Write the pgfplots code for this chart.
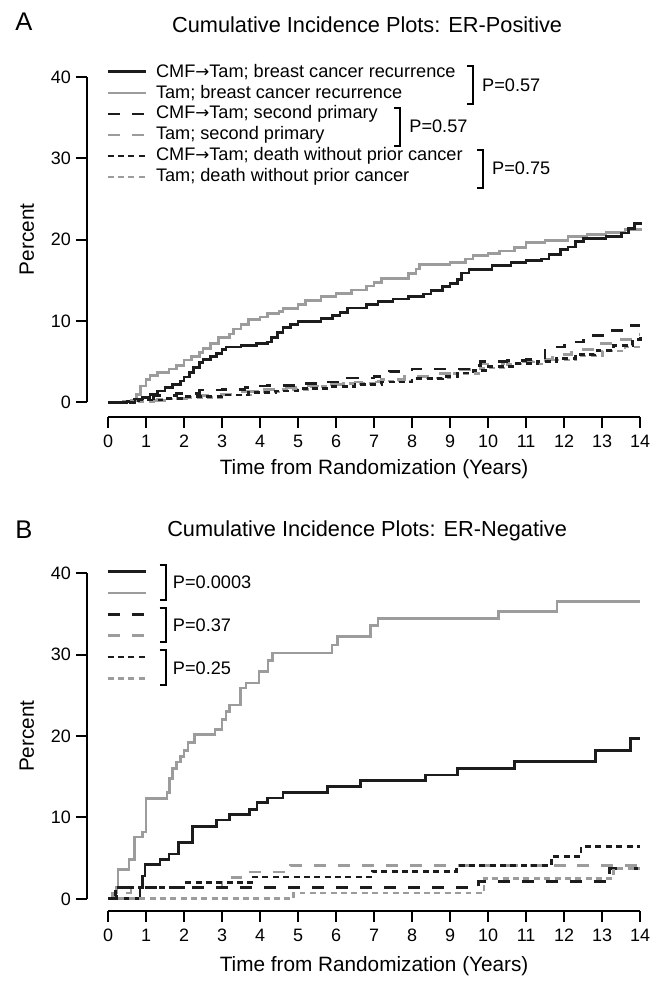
\documentclass[border=0pt]{standalone}
\usepackage{fontspec}
\setmainfont{Liberation Sans}
\newfontfamily\dejavu[Scale=0.92]{DejaVu Sans}
\usepackage{pgfplots}
\pgfplotsset{compat=1.18}

\definecolor{dk}{HTML}{1C1C1C}
\definecolor{lg}{HTML}{9C9C9C}

\newcommand{\arr}{{\dejavu →}}

\tikzset{
  bs/.style={line width=1.35pt, color=dk},
  gs/.style={line width=1.35pt, color=lg},
  bd/.style={bs, dash pattern=on 6pt off 6pt},
  gd/.style={gs, dash pattern=on 6pt off 6pt},
  bt/.style={bs, dash pattern=on 3pt off 2.2pt},
  gt/.style={gs, dash pattern=on 3pt off 2.2pt},
  brk/.style={line width=1pt, black},
}

\pgfplotsset{
  ci/.style={
    scale only axis,
    width=277.35pt,
    xmin=-0.56, xmax=14, ymax=40,
    axis lines*=left,
    axis line style={draw=none},
    xtick={0,...,14}, ytick={0,10,20,30,40},
    tick align=outside,
    major tick length=5.5pt,
    tick style={black, line width=1pt},
    ticklabel style={font=\fontsize{9}{10}\selectfont},
    yticklabel style={xshift=1pt},
    /pgf/number format/assume math mode=true,
    clip=false,
  },
}

\begin{document}
\begin{tikzpicture}
\begin{scope}[x=0.5pt,y=-0.5pt]
\path[use as bounding box] (0,0) rectangle (654,982);
\end{scope}

% ---------------- panel A
\begin{axis}[ci, at={(43.5pt,-208.85pt)}, anchor=south west,
  height=170.35pt, ymin=-1.77]
\draw[line width=1pt] (axis cs:0,-1.77) -- (axis cs:14,-1.77);
\draw[line width=1pt] (axis cs:-0.56,0) -- (axis cs:-0.56,40);

\addplot[const plot, gs] coordinates {
(0,0)(0.4,0.1)(0.6,0.3)(0.75,1.0)(0.85,2.0)(1.0,2.8)(1.1,3.3)(1.3,3.7)(1.6,4.1)
(1.8,4.5)(2.0,5.2)(2.2,5.6)(2.4,6.1)(2.5,6.6)(2.7,7.2)(2.9,8.0)(3.2,8.4)(3.3,9.0)
(3.5,9.6)(3.7,10.2)(4.0,10.5)(4.2,10.9)(4.5,11.2)(4.6,11.5)(5.0,12.0)(5.2,12.5)
(5.6,13.0)(6.0,13.4)(6.4,13.8)(6.8,14.3)(7.0,14.7)(7.2,15.2)(7.9,15.8)(8.1,16.4)
(8.2,16.9)(9.0,17.2)(9.4,17.6)(9.6,18.0)(10.0,18.3)(10.3,18.6)(10.7,19.0)(11.0,19.6)
(11.5,19.9)(12.1,20.4)(12.6,20.6)(13.1,20.9)(13.6,21.2)(14,21.4)};
\addplot[const plot, bs] coordinates {
(0,0)(0.5,0.1)(0.7,0.3)(0.9,0.6)(1.1,1.0)(1.3,1.4)(1.5,1.8)(1.7,2.2)(1.9,2.6)
(2.0,3.1)(2.15,3.7)(2.25,4.3)(2.4,4.9)(2.5,5.3)(2.7,5.6)(2.85,6.0)(3.0,6.5)(3.1,6.8)
(3.5,7.0)(3.9,7.2)(4.2,7.4)(4.3,8.0)(4.45,8.6)(4.6,9.2)(4.8,9.6)(5.0,9.9)(5.6,10.3)
(5.9,10.7)(6.1,11.0)(6.3,11.6)(6.8,12.0)(7.1,12.4)(7.5,12.7)(7.9,13.0)(8.3,13.3)
(8.5,13.7)(8.8,14.2)(9.0,14.6)(9.2,15.1)(9.3,15.9)(9.5,16.3)(10.1,16.8)(10.6,17.2)
(11.0,17.4)(11.4,17.6)(11.6,18.2)(11.9,18.8)(12.1,19.1)(12.3,19.8)(12.5,20.1)
(13.1,20.4)(13.5,20.8)(13.7,21.4)(13.85,22.0)(14,22.2)};
\addplot[const plot, gd] coordinates {
(0,0)(0.5,0.2)(1.5,0.5)(2.2,0.8)(2.8,1.0)(3.5,1.3)(4.0,1.6)(4.6,1.8)(5.2,2.0)
(5.8,2.2)(6.5,2.5)(7.2,2.8)(7.8,3.2)(8.5,3.5)(9.2,4.0)(9.8,4.7)(10.4,5.0)(11.2,5.3)
(11.7,5.9)(12.2,6.5)(12.8,7.2)(13.3,7.7)(13.8,8.3)(14,8.3)};
\addplot[const plot, bd] coordinates {
(0,0)(0.7,0.4)(1.2,0.8)(1.8,1.1)(2.4,1.5)(3.0,1.6)(3.6,1.8)(3.75,2.0)(4.2,2.1)
(5.0,2.3)(5.6,2.5)(6.3,3.0)(7.0,3.2)(7.4,3.8)(8.0,4.1)(9.5,4.5)(9.8,5.0)(10.5,5.1)
(11.0,5.3)(11.5,6.8)(12.0,7.4)(12.5,8.2)(13.0,8.8)(13.6,9.4)(14,9.4)};
\addplot[const plot, gt] coordinates {
(0,0)(0.6,0.1)(1.3,0.4)(2.0,0.6)(3.0,0.9)(3.8,1.3)(4.5,1.6)(5.3,1.9)(6.2,2.3)
(7.0,2.6)(8.0,3.0)(9.0,3.5)(9.8,4.2)(10.5,4.7)(11.5,5.2)(12.3,5.7)(13.0,6.3)
(13.6,6.8)(14,7.0)};
\addplot[const plot, bt] coordinates {
(0,0)(0.8,0.3)(1.5,0.5)(2.0,0.7)(3.0,0.9)(3.7,1.2)(4.4,1.4)(5.0,1.7)(5.8,1.9)
(6.5,2.2)(7.2,2.5)(8.0,2.9)(8.8,3.2)(9.2,3.6)(9.6,3.9)(10.0,4.4)(10.7,4.8)(11.3,5.0)
(11.8,5.4)(12.3,5.9)(12.8,6.4)(13.3,7.0)(13.8,7.7)(14,8.0)};
\end{axis}

% ---------------- panel B
\begin{axis}[ci, at={(43.5pt,-456.65pt)}, anchor=south west,
  height=169.35pt, ymin=-1.51]
\draw[line width=1pt] (axis cs:0,-1.51) -- (axis cs:14,-1.51);
\draw[line width=1pt] (axis cs:-0.56,0) -- (axis cs:-0.56,40);

\addplot[const plot, gs] coordinates {
(0,0)(0.15,0.7)(0.22,1.4)(0.26,3.6)(0.55,4.8)(0.69,7.6)(0.9,8.2)(1.0,12.3)
(1.55,13.1)(1.62,14.8)(1.7,16.0)(1.8,16.8)(1.9,17.5)(2.0,18.2)(2.1,19.2)(2.28,20.2)
(2.81,20.8)(3.0,22.0)(3.1,23.0)(3.2,23.8)(3.49,25.9)(3.63,26.5)(3.97,27.9)(4.21,29.3)
(4.33,30.2)(5.89,31.2)(6.04,32.2)(6.9,33.6)(7.1,34.4)(10.27,35.3)(11.81,36.5)(14,36.5)};
\addplot[const plot, bs] coordinates {
(0,0)(0.84,1.4)(0.9,2.8)(0.97,4.2)(1.37,4.8)(1.6,5.5)(1.85,6.9)(2.23,8.9)(2.86,9.7)
(3.2,10.4)(3.73,11.0)(3.92,11.8)(4.2,12.4)(4.6,13.1)(5.78,13.8)(6.65,14.5)(8.36,15.2)
(9.19,16.0)(10.70,16.9)(12.82,18.2)(13.74,19.7)(14,19.7)};
\addplot[const plot, gd] coordinates {
(0,0)(0.1,0.7)(0.6,1.4)(3.0,2.6)(3.5,3.3)(4.8,4.1)(14,4.1)};
\addplot[const plot, bd] coordinates {
(0,0)(0.22,1.4)(9.75,2.1)(13.2,3.7)(14,3.7)};
\addplot[const plot, gt] coordinates {
(0,0)(4.88,0.7)(9.89,2.5)(13.3,3.7)(14,3.7)};
\addplot[const plot, bt] coordinates {
(0,0)(0.2,1.4)(2.0,2.0)(3.77,2.7)(6.95,3.4)(9.17,4.1)(11.67,5.2)(12.44,6.4)(14,6.4)};
\end{axis}

% ---------------- titles, labels, legends (pixel grid of the reference)
\begin{scope}[x=0.5pt,y=-0.5pt]
\node[font=\fontsize{12.8}{14}\selectfont] at (24,22) {A};
\node[font=\fontsize{10.9}{12}\selectfont] at (368,25) {Cumulative Incidence Plots: ER-Positive};
\node[font=\fontsize{10.4}{12}\selectfont] at (375,470) {Time from Randomization (Years)};
\node[font=\fontsize{10.4}{12}\selectfont, rotate=90] at (27,240) {Percent};

\node[font=\fontsize{12.8}{14}\selectfont] at (24,531) {B};
\node[font=\fontsize{10.9}{12}\selectfont] at (368,532) {Cumulative Incidence Plots: ER-Negative};
\node[font=\fontsize{10.4}{12}\selectfont] at (375,968) {Time from Randomization (Years)};
\node[font=\fontsize{10.4}{12}\selectfont, rotate=90] at (27,738) {Percent};

% legend A
\begin{scope}[every node/.style={font=\fontsize{9.1}{10}\selectfont, anchor=west, inner sep=0pt}]
\draw[bs] (108,72) -- (146,72);    \node at (156,72) {CMF\arr Tam; breast cancer recurrence};
\draw[gs] (108,93.1) -- (146,93.1);  \node at (156,93.1) {Tam; breast cancer recurrence};
\draw[bd] (108,114.2) -- (146,114.2); \node at (156,114.2) {CMF\arr Tam; second primary};
\draw[gd] (108,135.3) -- (146,135.3); \node at (156,135.3) {Tam; second primary};
\draw[bt] (108,156.4) -- (146,156.4); \node at (156,156.4) {CMF\arr Tam; death without prior cancer};
\draw[gt] (108,177.5) -- (146,177.5); \node at (156,177.5) {Tam; death without prior cancer};
\draw[brk] (468,66) -- (474,66) -- (474,104) -- (468,104);
\node at (483,85) {P=0.57};
\draw[brk] (395,108) -- (401,108) -- (401,146) -- (395,146);
\node at (410,127) {P=0.57};
\draw[brk] (478,150) -- (484,150) -- (484,188) -- (478,188);
\node at (493,169) {P=0.75};

% legend B
\draw[bs] (108,573) -- (146,573);
\draw[gs] (108,594.4) -- (146,594.4);
\draw[bd] (108,615.8) -- (146,615.8);
\draw[gd] (108,637.2) -- (146,637.2);
\draw[bt] (108,658.6) -- (146,658.6);
\draw[gt] (108,680) -- (146,680);
\draw[brk] (160,566) -- (166,566) -- (166,601) -- (160,601);
\node at (173,583.5) {P=0.0003};
\draw[brk] (160,609) -- (166,609) -- (166,644) -- (160,644);
\node at (173,626.5) {P=0.37};
\draw[brk] (160,652) -- (166,652) -- (166,687) -- (160,687);
\node at (173,669.5) {P=0.25};
\end{scope}
\end{scope}
\end{tikzpicture}
\end{document}
